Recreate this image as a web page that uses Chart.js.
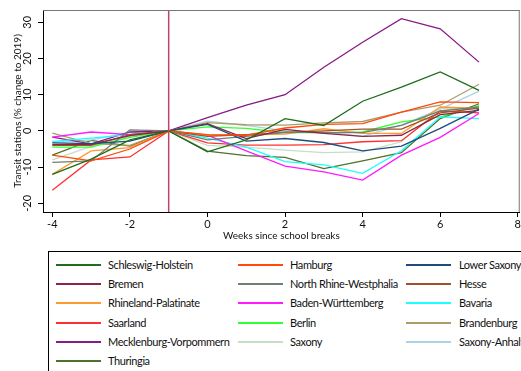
<!DOCTYPE html>
<html>
<head>
<meta charset="utf-8">
<script src="https://cdn.jsdelivr.net/npm/chart.js@4/dist/chart.umd.min.js"></script>
<style>
html, body { margin: 0; padding: 0; background: #fff; width: 521px; height: 371px; overflow: hidden; font-family: Lato, sans-serif; }
#chart { position: absolute; left: 0; top: 0; }
#legend { position: absolute; left: 48px; top: 251px; width: 490px; height: 130px; border: 1px solid #000; box-sizing: border-box; }
.item { position: absolute; font-size: 11px; letter-spacing: -0.4px; color: #111; white-space: nowrap; line-height: 14px; }
.swatch { position: absolute; width: 45px; height: 0; border-top: 2px solid; }
</style>
</head>
<body>
<canvas id="chart" width="522" height="245"></canvas>
<div id="legend"></div>
<script>
// weeks relative to school break
const weeks = [-4, -3, -2, -1, 0, 1, 2, 3, 4, 5, 6, 7];
const breakWeek = -1;
const xTicks = [-4, -2, 0, 2, 4, 6, 8];
const yTicks = [-20, -10, 0, 10, 20, 30];

// % change to 2019, transit stations
const schleswigHolstein = [-12, -7.8, -2.5, 0, -5.8, -2.5, 3.4, 1.5, 8.2, 12.1, 16.3, 11.2];
const hamburg           = [-6.7, -8.3, -5, 0, -1, -1.2, 0.8, 1.8, 2.0, 5.2, 8.0, 7.8];
const lowerSaxony       = [-3.3, -3.5, -2.8, 0, 1.8, -2.8, -2.1, -3.2, -5.5, -4.2, 0.7, 6];
const bremen            = [-3.8, -3.7, -1.3, 0, 2.0, -2.1, 0.4, -0.7, -1.5, -1.2, 4.5, 5.7];
const nrw               = [-8.7, -8.3, 0.3, 0, -2.5, -1.5, -0.3, -0.5, -0.5, 1.5, 5.5, 6.6];
const hesse             = [-4, -4, -1, 0, -1.5, -1, -0.5, 0, 0.5, 0.5, 5, 6.3];
const rhinelandPal      = [-12, -5.5, -4.6, 0, -1.2, -1.1, -0.9, 0.6, -0.7, -0.7, 6.6, 6.2];
const badenWuerttemberg = [-1.7, -0.3, -1, 0, -1.2, -5.5, -9.7, -11.3, -13.6, -6.7, -1.8, 4.8];
const bavaria           = [-2.9, -2, -1, 0, -2, -4.5, -8.5, -9.4, -11.7, -5.5, 3.9, 3.4];
const saarland          = [-16.4, -8, -7.2, 0, -3.3, -3.9, -3.9, -3.8, -3, -2.7, 5.5, 5.0];
const berlin            = [-4.5, -4.5, -1.8, 0, 1.1, 0.7, -0.5, -0.5, -0.3, 2.5, 3.9, 7];
const brandenburg       = [-0.6, -3.5, -4, 0, 2.3, 1.7, 1.6, 2.2, 2.6, 5.2, 7.1, 12.9];
const mecklenburgVP     = [-1.7, -3.6, -0.3, 0, 3.7, 7.1, 10, 17.6, 24.5, 31, 28.2, 19];
const saxony            = [-8, -4.3, -1.5, 0, -4, -4.5, -5.3, -6, -5.8, -3, 6.2, 6];
const saxonyAnhalt      = [-3.2, -2.5, -0.5, 0, 2.7, 1.5, 0, -0.3, -1.5, 1.6, 6, 11];
const thuringia         = [-6.7, -2.6, -4.2, 0, -5.6, -6.8, -7.3, -10.4, -8.3, -6, 3.4, 7.5];

const states = [
    ['Schleswig-Holstein', schleswigHolstein, '#1b6e1b'],
    ['Hamburg', hamburg, '#ff4a0a'],
    ['Lower Saxony', lowerSaxony, '#204c7c'],
    ['Bremen', bremen, '#8e2542'],
    ['North Rhine-Westphalia', nrw, '#6f7f72'],
    ['Hesse', hesse, '#a0522d'],
    ['Rhineland-Palatinate', rhinelandPal, '#ff9a30'],
    ['Baden-Württemberg', badenWuerttemberg, '#ff1aff'],
    ['Bavaria', bavaria, '#1affff'],
    ['Saarland', saarland, '#ff3030'],
    ['Berlin', berlin, '#30ff30'],
    ['Brandenburg', brandenburg, '#b09a6a'],
    ['Mecklenburg-Vorpommern', mecklenburgVP, '#861a86'],
    ['Saxony', saxony, '#c6dec6'],
    ['Saxony-Anhalt', saxonyAnhalt, '#a8d4e4'],
    ['Thuringia', thuringia, '#4e7228']
];

// box round the plot + the break marker
const framePlugin = {
    id: 'frame',
    afterDatasetsDraw(chart) {
        const { ctx, chartArea: a, scales } = chart;
        ctx.save();
        const xb = scales.x.getPixelForValue(breakWeek);
        ctx.strokeStyle = '#c0446a';
        ctx.lineWidth = 1.5;
        ctx.beginPath();
        ctx.moveTo(xb, a.top);
        ctx.lineTo(xb, a.bottom);
        ctx.stroke();
        ctx.strokeStyle = '#777';
        ctx.lineWidth = 1;
        ctx.beginPath();
        ctx.moveTo(a.left, a.top + 0.5);
        ctx.lineTo(a.right, a.top + 0.5);
        ctx.moveTo(a.right - 0.5, a.top);
        ctx.lineTo(a.right - 0.5, a.bottom);
        ctx.stroke();
        ctx.restore();
    }
};

const chart = new Chart(document.getElementById('chart'), {
    type: 'line',
    data: {
        datasets: states.map(([name, vals, col]) => ({
            label: name,
            data: weeks.map((w, i) => ({ x: w, y: vals[i] })),
            borderColor: col,
            borderWidth: 1.3,
            pointRadius: 0,
            fill: false
        }))
    },
    options: {
        responsive: false,
        animation: false,
        layout: { padding: { top: 10, left: 0, right: 0, bottom: 0 } },
        plugins: { legend: { display: false }, tooltip: { enabled: false } },
        scales: {
            x: {
                type: 'linear',
                min: -4.24,
                max: 8.05,
                afterBuildTicks: s => { s.ticks = xTicks.map(v => ({ value: v })); },
                afterFit: s => { s.height = 33; },
                grid: { drawOnChartArea: false, tickLength: 5, color: '#000' },
                border: { color: '#000', width: 1 },
                ticks: { color: '#111', font: { family: 'Lato', size: 11 }, padding: 1, maxRotation: 0 },
                title: { display: true, text: 'Weeks since school breaks', color: '#111', font: { family: 'Lato', size: 10 }, padding: { top: 0, bottom: 3 } }
            },
            y: {
                min: -22.4,
                max: 33.4,
                afterBuildTicks: s => { s.ticks = yTicks.map(v => ({ value: v })); },
                afterFit: s => { s.width = 43; },
                grid: { drawOnChartArea: false, tickLength: 5, color: '#000' },
                border: { color: '#000', width: 1 },
                ticks: { color: '#111', font: { family: 'Lato', size: 11 }, padding: 2, minRotation: 90, maxRotation: 90, crossAlign: 'center' },
                title: { display: true, text: 'Transit stations (% change to 2019)', color: '#111', font: { family: 'Lato', size: 10 }, padding: { top: 12, bottom: 0 } }
            }
        }
    },
    plugins: [framePlugin]
});

// legend in three columns, filled row by row
const legendEl = document.getElementById('legend');
states.forEach(([name, , col], i) => {
    const row = Math.floor(i / 3), c = i % 3;
    const cy = 13 + row * 19.2;
    const lineX = [7, 189, 357][c];
    const textX = [59, 241, 410][c];
    const sw = document.createElement('div');
    sw.className = 'swatch';
    sw.style.left = lineX + 'px';
    sw.style.top = (cy - 1) + 'px';
    sw.style.borderColor = col;
    legendEl.appendChild(sw);
    const t = document.createElement('div');
    t.className = 'item';
    t.style.left = textX + 'px';
    t.style.top = (cy - 7) + 'px';
    t.textContent = name;
    legendEl.appendChild(t);
});
</script>
</body>
</html>
